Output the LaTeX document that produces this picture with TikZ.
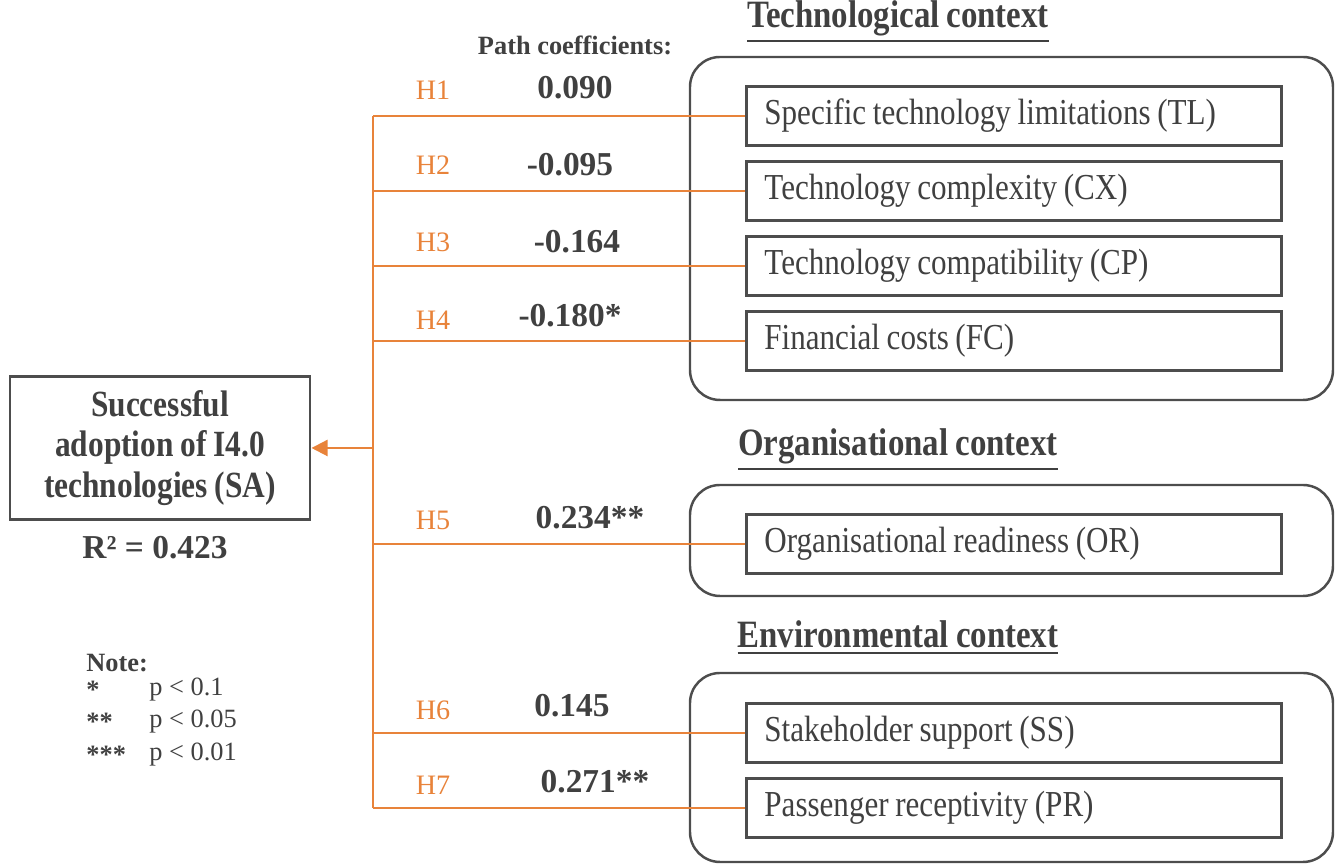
\documentclass[tikz,border=0pt]{standalone}
\usepackage{fontspec}
\setmainfont{Liberation Serif}
\newfontfamily\narrowfont{Liberation Serif}[FakeStretch=0.85, WordSpace=0.85]
\usetikzlibrary{calc}
\usetikzlibrary{arrows.meta}
\definecolor{hyporange}{HTML}{E8833A}
\definecolor{framegray}{HTML}{4D4D4D}
\definecolor{textgray}{HTML}{404040}

\tikzset{
	factor/.style = {draw=framegray, line width=0.8pt, anchor=north west, minimum width=5.35cm, minimum height=0.59cm, text width=4.99cm, inner xsep=0.18cm, align=flush left, font=\narrowfont\fontsize{10.4}{12}\selectfont},
	context/.style = {draw=framegray, line width=0.7pt, rounded corners=0.3cm},
	ctxtitle/.style = {font=\narrowfont\bfseries\fontsize{11}{13}\selectfont},
	link/.style = {draw=hyporange, line width=0.6pt},
	hyp/.style = {text=hyporange, font=\fontsize{8}{10}\selectfont},
	coef/.style = {font=\bfseries\fontsize{9.5}{11}\selectfont},
	notetext/.style = {anchor=west, font=\fontsize{7.5}{9}\selectfont}
}

\begin{document}
\begin{tikzpicture}[x=0.01cm, y=-0.01cm, every node/.style={text=textgray}]
	\useasboundingbox (0,0) rectangle (1338,865);

	\draw[context] (690,57) rectangle (1333,400);
	\draw[context] (690,485) rectangle (1333,596);
	\draw[context] (690,673) rectangle (1333,862);

	\node[ctxtitle] (techtitle) at (898,22) {\underline{Technological context}};
	\node[ctxtitle] (orgtitle) at (898,450) {\underline{Organisational context}};
	\node[ctxtitle] (envtitle) at (898,638) {\underline{Environmental context}};

	\foreach \f/\y/\txt in {tl/85/Specific technology limitations (TL), cx/160/Technology complexity (CX), cp/235/Technology compatibility (CP), fc/310/Financial costs (FC), or/513/Organisational readiness (OR), ss/702/Stakeholder support (SS), pr/777/Passenger receptivity (PR)}
	\node[factor] (\f) at (745,\y) {\txt};

	\node[draw=framegray, line width=0.8pt, minimum width=3cm, minimum height=1.43cm, align=center, font=\narrowfont\bfseries\fontsize{10.5}{11.5}\selectfont] (sa) at (160,448) {Successful\\adoption of I4.0\\technologies (SA)};
	\node[coef] (rsq) at (155,548) {R² = 0.423};

	\coordinate (bus) at (373,448);
	\draw[link] (bus |- tl.west) -- (bus |- pr.west);
	\foreach \f in {tl, cx, cp, fc, or, ss, pr}
	\draw[link] (bus |- \f.west) -- (\f.west);
	\draw[link, -{Triangle[length=0.16cm, width=0.16cm]}, hyporange] (bus) -- (sa.east);

	\node[font=\bfseries\fontsize{7.5}{9}\selectfont] (pathhead) at (575,45) {Path coefficients:};
	\foreach \i/\y in {1/90, 2/165, 3/242, 4/320, 5/520, 6/710, 7/785}
	\node[hyp] (h\i) at (433,\y) {H\i};
	\foreach \i/\x/\y/\val in {1/575/88/0.090, 2/570/165/-0.095, 3/577/242/-0.164, 4/570/316/-0.180*, 5/590/518/0.234**, 6/572/706/0.145, 7/595/782/0.271**}
	\node[coef] (c\i) at (\x,\y) {\val};

	\node[notetext, font=\bfseries\fontsize{7.5}{9}\selectfont] (notehead) at (74,663) {Note:};
	\foreach \i/\y/\stars/\p in {1/690/*/0.1, 2/722/**/0.05, 3/755/***/0.01} {
		\node[notetext, font=\bfseries\fontsize{7.5}{9}\selectfont] (star\i) at (74,\y) {\stars};
		\node[notetext] (pval\i) at (137,\y) {p < \p};
	}
\end{tikzpicture}
\end{document}
